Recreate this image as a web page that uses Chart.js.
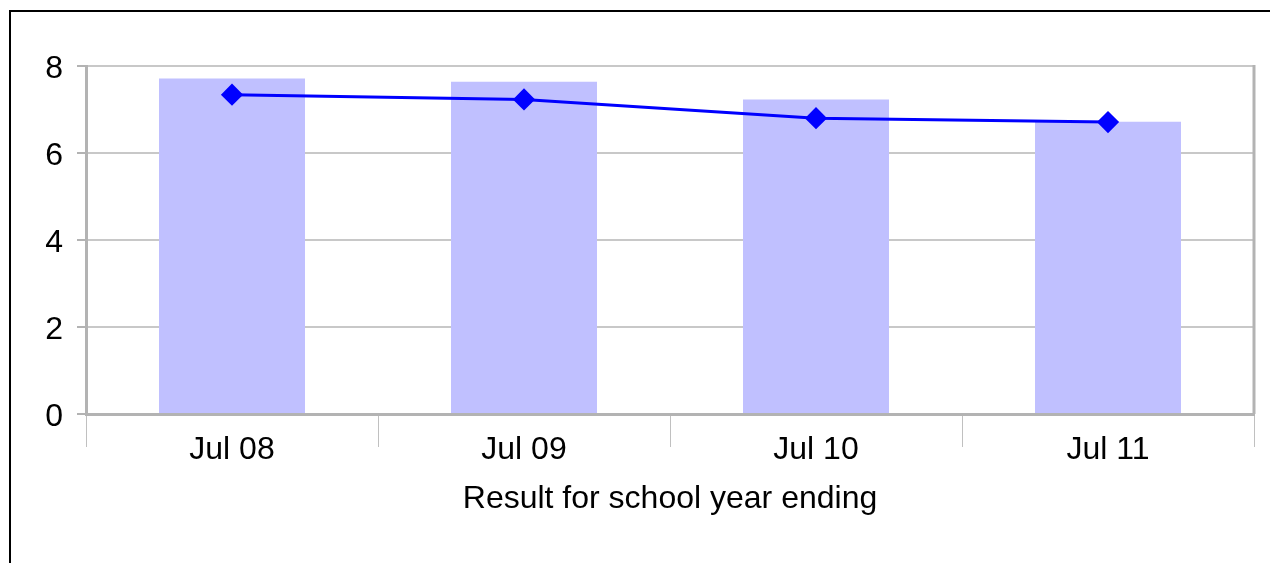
<!DOCTYPE html>
<html>
<head>
<meta charset="utf-8">
<script src="https://cdn.jsdelivr.net/npm/chart.js@4/dist/chart.umd.min.js"></script>
<style>
  html, body { margin: 0; padding: 0; background: #fff; overflow: hidden; }
  #wrap { position: relative; width: 1270px; height: 563px; }
  #frame { position: absolute; left: 9px; top: 10px; width: 1400px; height: 700px; border: 2px solid #000; box-sizing: border-box; }
  canvas { position: absolute; left: 0; top: 0; }
</style>
</head>
<body>
<div id="wrap">
  <div id="frame"></div>
  <canvas id="chart" width="1270" height="563"></canvas>
</div>
<script>
// values
const categories = ["Jul 08", "Jul 09", "Jul 10", "Jul 11"];
const barValues = [7.71, 7.64, 7.23, 6.72];
const lineValues = [7.34, 7.23, 6.80, 6.71];
const xTitle = "Result for school year ending";

const axisGray = "#b3b3b3";
const gridGray = "#c8c8c8";
const font = { family: "'Liberation Sans', Arial, sans-serif", size: 32 };

// right border of the plot area
const plotBorder = {
    id: "plotBorder",
    afterDatasetsDraw(chart) {
        const { ctx, chartArea } = chart;
        ctx.save();
        ctx.strokeStyle = axisGray;
        ctx.lineWidth = 3;
        ctx.beginPath();
        ctx.moveTo(chartArea.right, chartArea.top - 1);
        ctx.lineTo(chartArea.right, chartArea.bottom);
        ctx.stroke();
        ctx.restore();
    }
};

new Chart(document.getElementById("chart"), {
    data: {
        labels: categories,
        datasets: [
            {
                type: "line",
                data: lineValues,
                borderColor: "#0000ff",
                backgroundColor: "#0000ff",
                borderWidth: 3,
                pointStyle: "rectRot",
                pointRadius: 9,
                pointHoverRadius: 9,
                tension: 0,
                order: 0
            },
            {
                type: "bar",
                data: barValues,
                backgroundColor: "#c0c0ff",
                borderWidth: 0,
                barPercentage: 0.5,
                categoryPercentage: 1,
                order: 1
            }
        ]
    },
    options: {
        responsive: false,
        animation: false,
        layout: { padding: { left: 0, top: 66, right: 16, bottom: 45 } },
        plugins: { legend: { display: false }, tooltip: { enabled: false } },
        scales: {
            x: {
                offset: true,
                grid: {
                    offset: true,
                    drawOnChartArea: false,
                    drawTicks: true,
                    tickLength: 33,
                    tickColor: "#c0c0c0",
                    tickWidth: 1
                },
                border: { color: axisGray, width: 3 },
                ticks: { color: "#000", font, padding: -16, maxRotation: 0 },
                title: { display: true, text: xTitle, color: "#000", font, padding: { top: 0, bottom: 0 } },
                afterFit(scale) { scale.height = 104; }
            },
            y: {
                min: 0,
                max: 8,
                ticks: { stepSize: 2, color: "#000", font, padding: 14, labelOffset: 3 },
                grid: {
                    color: gridGray,
                    lineWidth: 2,
                    tickLength: 9,
                    tickColor: axisGray,
                    tickWidth: 2
                },
                border: { color: axisGray, width: 3 },
                afterFit(scale) { scale.width = 86; }
            }
        }
    },
    plugins: [plotBorder]
});
</script>
</body>
</html>
